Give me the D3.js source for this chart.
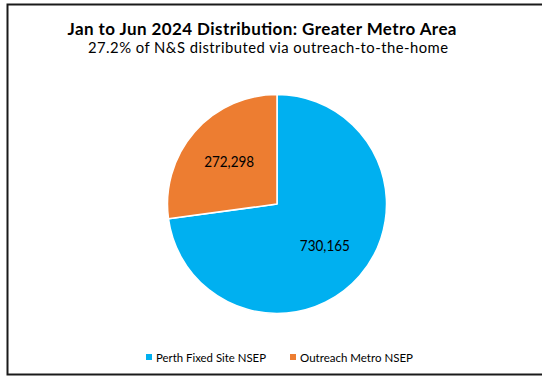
<!DOCTYPE html>
<html>
<head>
<meta charset="utf-8">
<script src="https://cdn.jsdelivr.net/npm/d3@7"></script>
<style>
  body { margin: 0; background: #fff; }
  text { font-family: Lato, "Open Sans", sans-serif; fill: #000; }
</style>
</head>
<body>
<svg id="chart" width="542" height="376"></svg>
<script>
const categories = ["Perth Fixed Site NSEP", "Outreach Metro NSEP"];
const values = [730165, 272298];
const colors = ["#00B0F0", "#ED7D31"];
const title = "Jan to Jun 2024 Distribution: Greater Metro Area";
const subtitle = "27.2% of N&S distributed via outreach-to-the-home";

const svg = d3.select("#chart");

// chart frame
svg.append("rect")
  .attr("x", 7.5).attr("y", 4.5)
  .attr("width", 545).attr("height", 370)
  .attr("fill", "none")
  .attr("stroke", "#1a1a1a")
  .attr("stroke-width", 2);

svg.append("text")
  .attr("x", 262).attr("y", 35)
  .attr("text-anchor", "middle")
  .attr("font-weight", "bold")
  .attr("font-size", 17)
  .attr("textLength", 389)
  .attr("lengthAdjust", "spacing")
  .text(title);

svg.append("text")
  .attr("x", 268).attr("y", 53)
  .attr("text-anchor", "middle")
  .attr("font-size", 14.8)
  .attr("textLength", 360)
  .attr("lengthAdjust", "spacing")
  .text(subtitle);

const cx = 277, cy = 204, r = 109.5;
const pie = d3.pie().sort(null).value(d => d);
const arcs = pie(values);
const arc = d3.arc().innerRadius(0).outerRadius(r);
const labelArc = d3.arc().innerRadius(r * 0.58).outerRadius(r * 0.58);
const fmt = d3.format(",");

const g = svg.append("g").attr("transform", `translate(${cx},${cy})`);
g.selectAll("path")
  .data(arcs)
  .join("path")
  .attr("d", arc)
  .attr("fill", (d, i) => colors[i])
  .attr("stroke", "#fff")
  .attr("stroke-width", 1.5)
  .attr("stroke-linejoin", "round");

g.selectAll("text.lbl")
  .data(arcs)
  .join("text")
  .attr("class", "lbl")
  .attr("transform", d => `translate(${labelArc.centroid(d)})`)
  .attr("text-anchor", "middle")
  .attr("dy", "0.35em")
  .attr("font-size", 14.5)
  .attr("fill", "#1a1a1a")
  .attr("textLength", 50)
  .attr("lengthAdjust", "spacingAndGlyphs")
  .text(d => fmt(d.data));

// legend
const legendX = [146, 290];
const legendW = [110, 113];
const lg = svg.append("g");
categories.forEach((c, i) => {
  lg.append("rect")
    .attr("x", legendX[i]).attr("y", 354)
    .attr("width", 6).attr("height", 6)
    .attr("fill", colors[i]);
  lg.append("text")
    .attr("x", legendX[i] + 10).attr("y", 361.5)
    .attr("font-size", 11.8)
    .attr("fill", "#404040")
    .attr("textLength", legendW[i])
    .attr("lengthAdjust", "spacingAndGlyphs")
    .text(c);
});
</script>
</body>
</html>
